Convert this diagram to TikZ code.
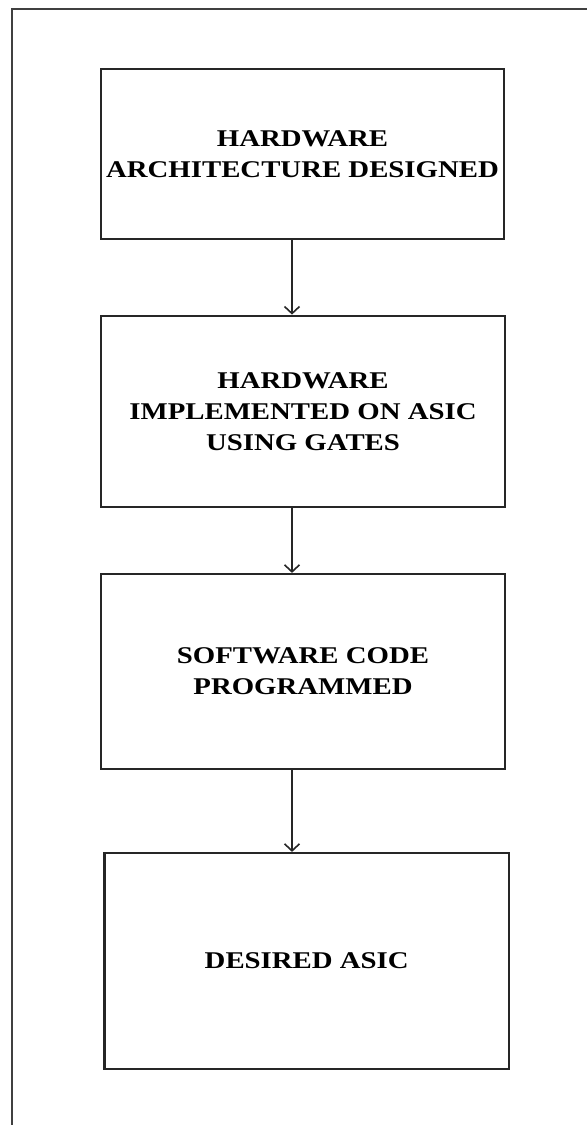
\documentclass[tikz,border=0pt]{standalone}
\usepackage{fontspec}
\setmainfont{Liberation Serif}
\newfontfamily\stepfont[FakeStretch=1.2]{Liberation Serif}
\usetikzlibrary{arrows.meta,calc}

\begin{document}
\begin{tikzpicture}[x=1pt,y=1pt,
  stepbox/.style={draw=black!85, line width=2.2pt, rectangle, inner sep=0pt,
    align=center, font=\stepfont\bfseries\fontsize{24}{31}\selectfont},
  flow/.style={draw=black!85, line width=1.8pt,
    -{Straight Barb[length=7pt,width=15pt,line width=1.6pt]}},
  frameline/.style={draw=black!75, line width=2pt}]

  % page area
  \useasboundingbox[fill=white] (0,0) rectangle (587,-1125);

  % outer frame: left and top edges only
  \draw[frameline] (12.4,-1125) -- (12.4,-9.3) -- (587,-9.3);

  % process steps
  \node[stepbox, minimum width=403pt, minimum height=170pt] (b1) at (302.5,-154)
    {HARDWARE\\ARCHITECTURE DESIGNED};
  \node[stepbox, minimum width=404pt, minimum height=191.6pt] (b2) at (303,-411.5)
    {HARDWARE\\IMPLEMENTED ON ASIC\\USING GATES};
  \node[stepbox, minimum width=404pt, minimum height=195pt] (b3) at (303,-671.5)
    {SOFTWARE CODE\\PROGRAMMED};
  \node[stepbox, minimum width=404.5pt, minimum height=216pt] (b4) at (306.75,-961)
    {DESIRED ASIC};

  % vertical axis of the connectors
  \coordinate (ax) at (292,0);

  \draw[flow] (b1.south -| ax) -- (b2.north -| ax);
  \draw[flow] (b2.south -| ax) -- (b3.north -| ax);
  \draw[flow] (b3.south -| ax) -- (b4.north -| ax);
\end{tikzpicture}
\end{document}
